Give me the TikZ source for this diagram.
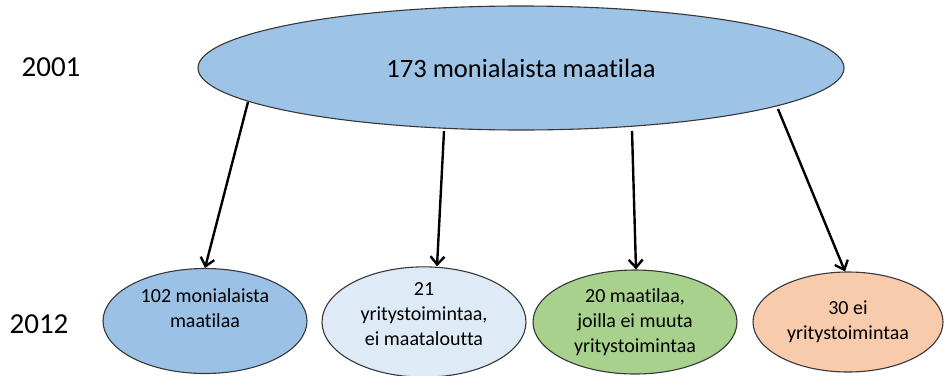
\documentclass[tikz,border=0pt]{standalone}
\usepackage{fontspec}
\setmainfont{Carlito}[Ligatures=NoCommon]
\usetikzlibrary{shapes.geometric,arrows.meta,calc}
\definecolor{bigblue}{RGB}{157,195,230}
\definecolor{midblue}{RGB}{155,194,230}
\definecolor{paleblue}{RGB}{222,235,247}
\definecolor{green}{RGB}{169,209,142}
\definecolor{peach}{RGB}{248,203,173}
\definecolor{edge}{RGB}{55,55,55}
\tikzset{
  oval/.style={draw=edge, line width=1.1pt, ellipse, inner sep=0pt, align=center, font=\fontsize{20}{25}\selectfont},
  conn/.style={line width=2.4pt, -{Straight Barb[length=8pt,width=14pt,line width=2.4pt]}},
  yr/.style={font=\fontsize{29}{34}\selectfont}
}
\begin{document}
\begin{tikzpicture}[x=1pt,y=-1pt]
\useasboundingbox (0,0) rectangle (949,375);
\node[oval, fill=bigblue, minimum width=646pt, minimum height=124pt, font=\fontsize{26.5}{31}\selectfont] (top) at (521,68) {173 monialaista maatilaa};
\node[oval, fill=midblue, minimum width=204pt, minimum height=105pt] (a) at (205,321) {102 monialaista\\maatilaa\\ \mbox{}};
\node[oval, fill=paleblue, minimum width=204pt, minimum height=104pt] (b) at (424,322) {21\\yritystoimintaa,\\ei maataloutta\\[-10pt]\mbox{}};
\node[oval, fill=green, minimum width=204pt, minimum height=104pt] (c) at (635,322) {20 maatilaa,\\joilla ei muuta\\yritystoimintaa};
\node[oval, fill=peach, minimum width=190pt, minimum height=100pt] (d) at (848,322) {30 ei\\yritystoimintaa};
\node[yr] (y1) at (51,67) {2001};
\node[yr] (y2) at (39,324) {2012};
\draw[conn] ($(top.center)+(-273,34)$) -- (a.north);
\draw[conn] ($(top.center)+(-77,63)$) -- ($(b.north)+(13,0)$);
\draw[conn] ($(top.center)+(111,63)$) -- ($(c.north)+(1,0)$);
\draw[conn] ($(top.center)+(257,41)$) -- ($(d.north)+(-3,0)$);
\end{tikzpicture}
\end{document}
